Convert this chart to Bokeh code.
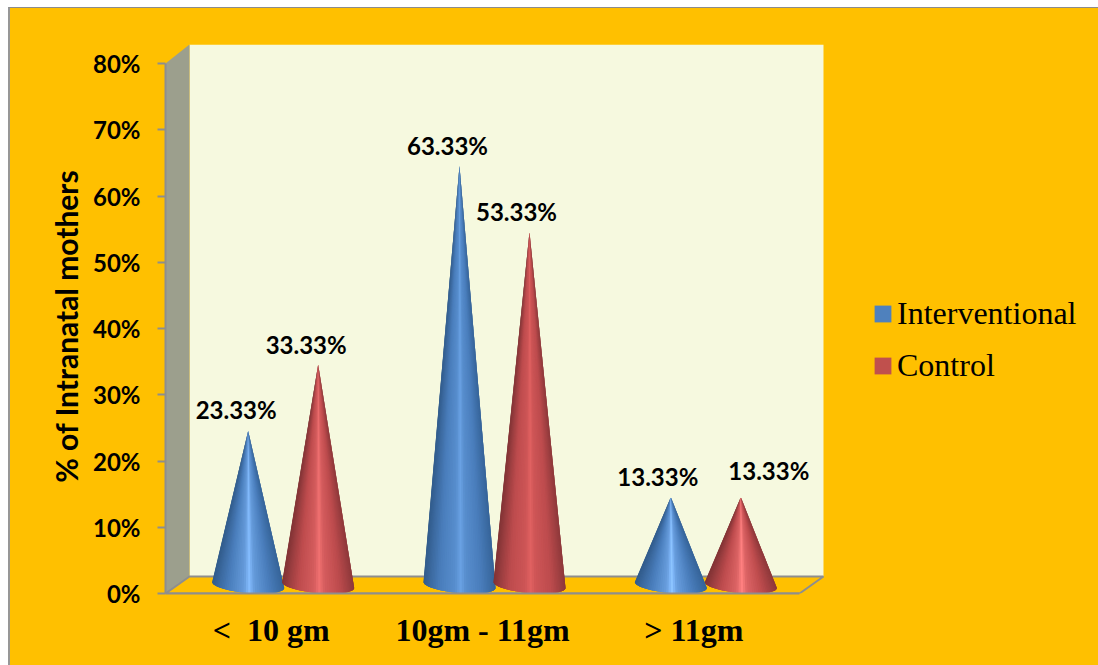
from bokeh.plotting import figure
from bokeh.layouts import column
from bokeh.models import (ColumnDataSource, FixedTicker, Legend, LegendItem)
from bokeh.core.properties import value
from bokeh.embed import file_html
from bokeh.resources import INLINE
import numpy as np

# Chart data
categories = ["<\u00a0 10 gm", "10gm - 11gm", "> 11gm"]
interventional = [23.33, 63.33, 13.33]
control = [33.33, 53.33, 13.33]
percent_ticks = [0, 10, 20, 30, 40, 50, 60, 70, 80]
series_names = ["Interventional", "Control"]

# Palette
PANEL = "#FFC000"
WALL = "#F6F9DF"
SIDE = "#9C9F8D"
EDGE = "#8E8E8E"
BLUE_SHADES = dict(dark=(50, 92, 140), mid=(74, 126, 188), hi=(120, 176, 242))
RED_SHADES = dict(dark=(130, 52, 54), mid=(190, 76, 78), hi=(236, 108, 108))

# Scale factors of the plot frame, in pixels per data unit
PX_PER_CAT = 211.33
PX_PER_PCT = 6.625
DEPTH_X = 24 / PX_PER_CAT
DEPTH_Y = 17 / PX_PER_PCT
N_CATS = len(categories)
Y_MAX = 80 + 19 / PX_PER_PCT
X_MAX = 661 / PX_PER_CAT

p = figure(frame_width=661, frame_height=549, output_backend="svg", toolbar_location=None,
           x_range=(0, X_MAX), y_range=(0, Y_MAX),
           min_border_left=155, min_border_right=272, min_border_top=36, min_border_bottom=72,
           background_fill_color=PANEL, border_fill_color=PANEL, outline_line_color=None,
           tools="")
p.grid.visible = False

# 3D box: back wall, side wall and floor
wall_right = N_CATS + DEPTH_X
p.patch([DEPTH_X, wall_right, wall_right, DEPTH_X], [DEPTH_Y, DEPTH_Y, Y_MAX, Y_MAX],
        fill_color=WALL, line_color=None)
p.patch([0, DEPTH_X, DEPTH_X, 0], [0, DEPTH_Y, Y_MAX, 80],
        fill_color=SIDE, line_color=None)
p.patch([0, DEPTH_X, wall_right, N_CATS], [0, DEPTH_Y, DEPTH_Y, 0],
        fill_color=PANEL, line_color=EDGE, line_width=2)


def shade(u, colors, tone):
    """Colour of a cone strip at horizontal position u in [-1, 1]."""
    dark, mid, hi = (np.array(colors[k], float) for k in ("dark", "mid", "hi"))
    hi = hi + tone
    stops = [-1, -0.55, -0.12, 0.03, 0.18, 0.6, 1]
    rows = [dark, mid, mid * 0.55 + hi * 0.45, hi, mid * 0.55 + hi * 0.45, mid, dark * 1.1]
    rgb = [np.interp(u, stops, [r[i] for r in rows]) for i in range(3)]
    return "#%02x%02x%02x" % tuple(int(min(255, c)) for c in rgb)


def draw_cone(cx, height, colors, n=48):
    """Shaded cone built from overlapping strips running from the apex to the base arc."""
    a = 36 / PX_PER_CAT
    b = 8 / PX_PER_PCT
    tilt = 3 / PX_PER_PCT
    base_y = 8.5 / PX_PER_PCT
    apex_y = height + 1.2
    tone = np.clip((40 - height) * 0.8, -14, 24)
    t = np.linspace(np.pi, 0, n + 1)
    bx = cx + a * np.cos(t)
    by = base_y - b * np.sin(t) - tilt * np.cos(t)
    xs, ys, cols = [], [], []
    for i in range(n):
        j = min(i + 3, n)
        xs.append([cx] + list(bx[i:j + 1]))
        ys.append([apex_y] + list(by[i:j + 1]))
        cols.append(shade((np.cos(t[i]) + np.cos(t[i + 1])) / 2, colors, tone))
    p.patches(xs, ys, fill_color=cols, line_color=None)


offset = 35 / PX_PER_CAT
shift = 12 / PX_PER_CAT
centers = np.arange(N_CATS) + 0.5 + shift
for c, h_i, h_c in zip(centers, interventional, control):
    draw_cone(c - offset, h_i, BLUE_SHADES)
    draw_cone(c + offset, h_c, RED_SHADES)

# Value labels above the cone tips
label_x = list(centers - offset) + list(centers + offset)
label_v = interventional + control
label_dx = [-12, -12, -13, -12, -13, 28]
label_dy = [-21, -20, -21, -20, -21, -27]
labels = ColumnDataSource(dict(
    x=label_x, y=[v + 1.2 for v in label_v],
    text=["%.2f%%" % v for v in label_v], dx=label_dx, dy=label_dy))
p.text("x", "y", text="text", x_offset="dx", y_offset="dy", source=labels,
       text_font=value("Lato"), text_font_style="bold", text_font_size="24px",
       text_color="black", text_align="center", text_baseline="middle")

# Axes
yax = p.yaxis[0]
yax.ticker = FixedTicker(ticks=percent_ticks)
yax.major_label_overrides = {v: f"{v}%" for v in percent_ticks}
yax.bounds = (0, 80)
yax.axis_line_color = EDGE
yax.axis_line_width = 2
yax.major_tick_line_color = EDGE
yax.major_tick_line_width = 2
yax.major_tick_in = 0
yax.major_tick_out = 8
yax.minor_tick_line_color = None
yax.major_label_text_font = "Lato"
yax.major_label_text_font_style = "bold"
yax.major_label_text_font_size = "24px"
yax.major_label_text_color = "black"
yax.major_label_standoff = 17
# Trailing no-break spaces centre the title on the 0-80% span rather than on the whole frame
yax.axis_label = "% of Intranatal mothers\u00a0\u00a0"
yax.axis_label_text_font = "Lato"
yax.axis_label_text_font_style = "bold"
yax.axis_label_text_font_size = "30px"
yax.axis_label_text_color = "black"
yax.axis_label_standoff = 6

xax = p.xaxis[0]
xax.ticker = FixedTicker(ticks=[i + 0.5 for i in range(N_CATS)])
xax.major_label_overrides = {i + 0.5: c for i, c in enumerate(categories)}
xax.bounds = (0, N_CATS)
xax.axis_line_color = EDGE
xax.axis_line_width = 2
xax.major_tick_line_color = None
xax.minor_tick_line_color = None
xax.major_label_text_font = "Liberation Serif"
xax.major_label_text_font_style = "bold"
xax.major_label_text_font_size = "32px"
xax.major_label_text_color = "black"
xax.major_label_standoff = 12

# Legend with square swatches; the key glyphs have no visible geometry of their own
nan = float("nan")
blue_key = p.quad(left=[nan], right=[nan], top=[nan], bottom=[nan], fill_color="#4F81BD", line_color=None)
red_key = p.quad(left=[nan], right=[nan], top=[nan], bottom=[nan], fill_color="#C0504D", line_color=None)
legend = Legend(items=[LegendItem(label=series_names[0], renderers=[blue_key]),
                       LegendItem(label=series_names[1], renderers=[red_key])],
                location=(46, 209), orientation="vertical",
                background_fill_alpha=0, border_line_color=None,
                glyph_width=21, glyph_height=21, label_standoff=4, spacing=15,
                margin=0, padding=0,
                label_text_font="Liberation Serif", label_text_font_size="32px",
                label_text_color="black")
p.add_layout(legend, "right")

page = column(p, margin=(7, 0, 0, 8),
              styles={"border-left": "2px solid #979797", "border-top": "1px solid #8c8c8c",
                      "background": PANEL})

open("out.html", "w").write(file_html(page, INLINE))
